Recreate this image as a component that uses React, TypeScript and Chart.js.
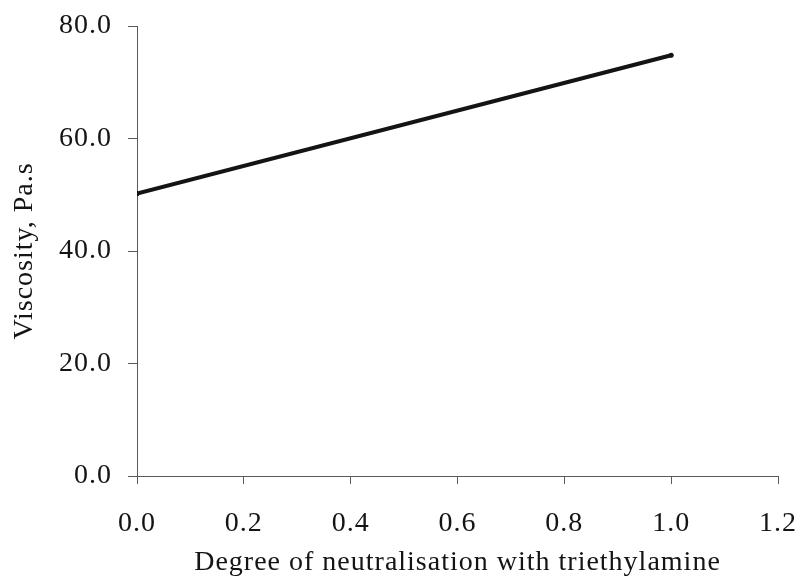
import React, { useEffect, useRef } from "react";
import { Chart, registerables } from "chart.js";

Chart.register(...registerables);

// Degree of neutralisation (x) and measured viscosity (y)
const neutralisation = [0.0, 1.0];
const viscosity = [50.2, 74.8];

const xTicks = [0.0, 0.2, 0.4, 0.6, 0.8, 1.0, 1.2];
const yTicks = [0.0, 20.0, 40.0, 60.0, 80.0];

const xTitle = "Degree of neutralisation with triethylamine";
const yTitle = "Viscosity, Pa.s";

const W = 801;
const H = 579;
const SERIF = "'Liberation Serif', 'Times New Roman', serif";
const AXIS = "#5a5a5a";
const INK = "#141414";
const SPACING = "1px";

// Slightly open tracking for the wide serif lettering
const tracking = {
  id: "tracking",
  beforeUpdate(chart: any) {
    chart.ctx.letterSpacing = SPACING;
  },
  beforeLayout(chart: any) {
    chart.ctx.letterSpacing = SPACING;
  },
  beforeDraw(chart: any) {
    chart.ctx.letterSpacing = SPACING;
  },
};

export default function App() {
  const canvasRef = useRef<HTMLCanvasElement | null>(null);

  useEffect(() => {
    const canvas = canvasRef.current;
    if (!canvas) return;

    const chart = new Chart(canvas, {
      type: "line",
      data: {
        datasets: [
          {
            data: neutralisation.map((x, i) => ({ x, y: viscosity[i] })),
            borderColor: INK,
            backgroundColor: INK,
            borderWidth: 4,
            borderCapStyle: "round",
            pointRadius: 2.5,
            pointBorderWidth: 0,
            pointBackgroundColor: INK,
            tension: 0,
          },
        ],
      },
      options: {
        responsive: false,
        animation: false,
        devicePixelRatio: 1,
        layout: { padding: { top: 26, right: 23, left: 0, bottom: 0 } },
        plugins: {
          legend: { display: false },
          tooltip: { enabled: false },
        },
        scales: {
          x: {
            type: "linear",
            min: xTicks[0],
            max: xTicks[xTicks.length - 1],
            afterBuildTicks: (scale: any) => {
              scale.ticks = xTicks.map((v) => ({ value: v }));
            },
            afterFit: (scale: any) => {
              scale.height = 103;
              scale.paddingLeft = 0;
              scale.paddingRight = 0;
            },
            ticks: {
              callback: (v: any) => Number(v).toFixed(1),
              font: { family: SERIF, size: 28 },
              color: INK,
              padding: 23,
              maxRotation: 0,
            },
            grid: {
              drawOnChartArea: false,
              drawTicks: true,
              tickLength: 8,
              color: AXIS,
            },
            border: { display: true, color: AXIS, width: 1 },
            title: {
              display: true,
              text: xTitle,
              font: { family: SERIF, size: 28 },
              color: INK,
              padding: { top: 0, bottom: 0 },
            },
          },
          y: {
            type: "linear",
            min: yTicks[0],
            max: yTicks[yTicks.length - 1],
            afterBuildTicks: (scale: any) => {
              scale.ticks = yTicks.map((v) => ({ value: v }));
            },
            afterFit: (scale: any) => {
              scale.width = 137;
              scale.paddingTop = 0;
              scale.paddingBottom = 0;
            },
            ticks: {
              callback: (v: any) => Number(v).toFixed(1),
              font: { family: SERIF, size: 28 },
              color: INK,
              padding: 16,
            },
            grid: {
              drawOnChartArea: false,
              drawTicks: true,
              tickLength: 9,
              color: AXIS,
            },
            border: { display: true, color: AXIS, width: 1 },
            title: {
              display: true,
              text: yTitle,
              font: { family: SERIF, size: 28 },
              color: INK,
              padding: { top: 8, bottom: 0 },
            },
          },
        },
      },
      plugins: [tracking],
    });

    return () => chart.destroy();
  }, []);

  return (
    <div style={{ position: "absolute", left: 0, top: 0, width: W, height: H, background: "#fff" }}>
      <canvas ref={canvasRef} width={W} height={H} style={{ display: "block", width: W, height: H }} />
    </div>
  );
}
